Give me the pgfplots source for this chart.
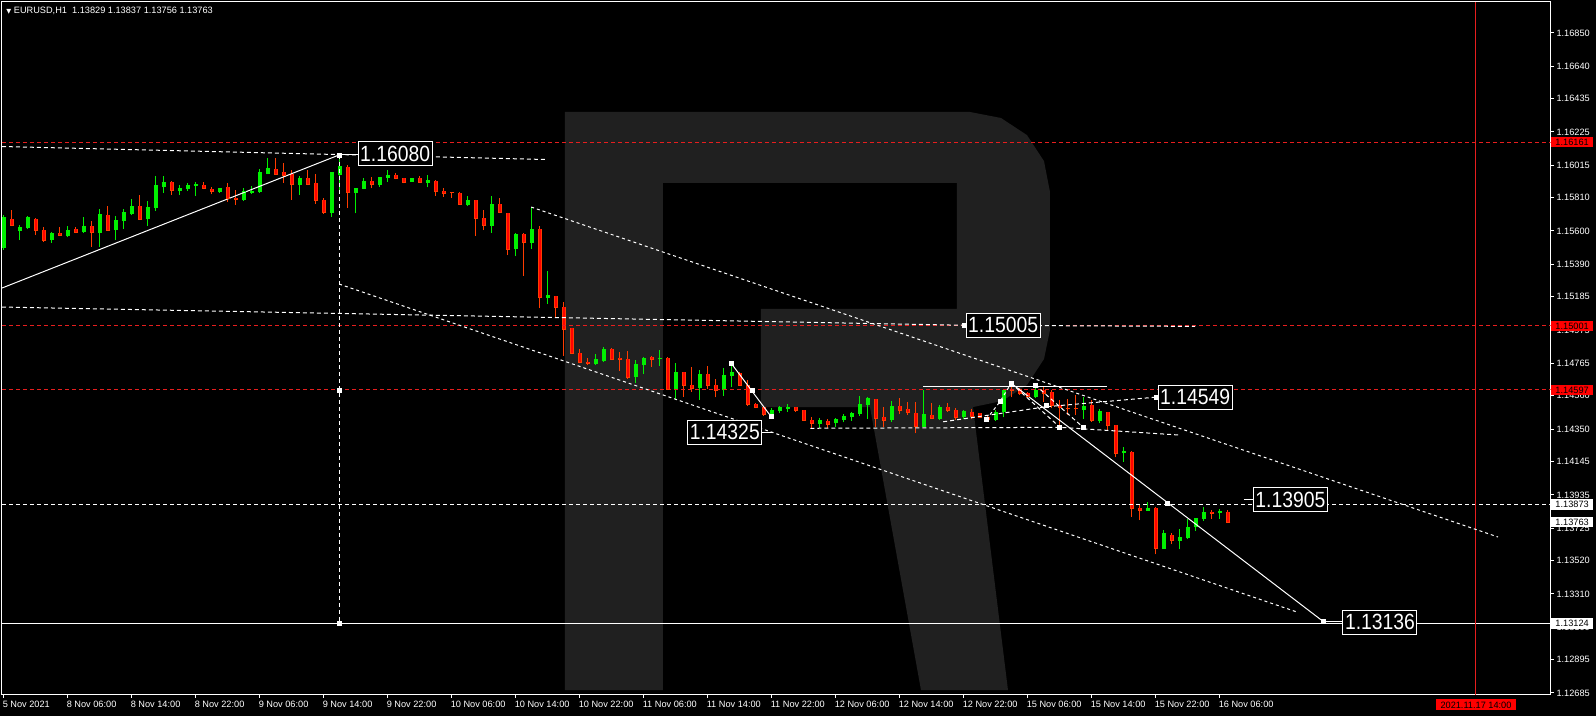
\documentclass[border=0pt]{standalone}
\usepackage{fontspec}
\setmainfont{Liberation Sans}
\newfontfamily\dejavu{DejaVu Sans}
\newfontfamily\lblfont[FakeStretch=0.88]{Liberation Sans}
\usepackage{pgfplots}
\usepackage{pgfplotstable}
\pgfplotsset{compat=1.18}
\usetikzlibrary{backgrounds}

\definecolor{bull}{RGB}{0,240,0}
\definecolor{bear}{RGB}{255,0,0}
\definecolor{bearedge}{RGB}{255,60,0}
\definecolor{wmark}{RGB}{32,32,32}
\definecolor{lvl}{RGB}{230,30,30}

% EURUSD H1, hour index (0 = 5 Nov 22:00), open high low close
\pgfplotstableread{
i o h l c
0 1.15492 1.15701 1.15480 1.15688
2 1.15600 1.15638 1.15543 1.15621
3 1.15619 1.15694 1.15612 1.15682
6 1.15543 1.15593 1.15526 1.15587
8 1.15568 1.15631 1.15562 1.15606
10 1.15593 1.15686 1.15589 1.15631
12 1.15589 1.15738 1.15501 1.15701
14 1.15606 1.15694 1.15543 1.15669
15 1.15663 1.15738 1.15612 1.15715
16 1.15707 1.15802 1.15701 1.15757
18 1.15675 1.15789 1.15631 1.15751
19 1.15745 1.15947 1.15728 1.15890
20 1.15877 1.15947 1.15841 1.15909
22 1.15852 1.15888 1.15827 1.15871
23 1.15865 1.15901 1.15852 1.15888
24 1.15886 1.15909 1.15821 1.15892
27 1.15848 1.15871 1.15841 1.15871
30 1.15795 1.15871 1.15791 1.15846
31 1.15840 1.15884 1.15833 1.15852
32 1.15846 1.15991 1.15840 1.15966
33 1.15959 1.16060 1.15959 1.15997
37 1.15892 1.15949 1.15829 1.15934
41 1.15715 1.15966 1.15690 1.15966
42 1.15953 1.16080 1.15858 1.16005
44 1.15841 1.15869 1.15711 1.15869
45 1.15867 1.15932 1.15863 1.15915
47 1.15892 1.15942 1.15879 1.15940
48 1.15936 1.15983 1.15911 1.15953
51 1.15911 1.15936 1.15911 1.15932
53 1.15905 1.15953 1.15875 1.15917
58 1.15764 1.15821 1.15757 1.15795
61 1.15633 1.15821 1.15589 1.15770
64 1.15484 1.15585 1.15442 1.15579
66 1.15526 1.15749 1.15488 1.15608
68 1.15179 1.15347 1.15142 1.15191
74 1.14762 1.14822 1.14757 1.14786
75 1.14779 1.14866 1.14773 1.14855
79 1.14680 1.14784 1.14639 1.14760
80 1.14754 1.14805 1.14697 1.14798
82 1.14790 1.14849 1.14750 1.14798
84 1.14601 1.14767 1.14538 1.14710
87 1.14611 1.14723 1.14535 1.14697
90 1.14594 1.14735 1.14560 1.14691
91 1.14685 1.14765 1.14613 1.14704
96 1.14441 1.14485 1.14428 1.14470
97 1.14466 1.14495 1.14449 1.14489
98 1.14478 1.14506 1.14460 1.14487
102 1.14382 1.14420 1.14355 1.14407
104 1.14386 1.14422 1.14365 1.14413
105 1.14407 1.14445 1.14393 1.14432
106 1.14428 1.14458 1.14401 1.14451
107 1.14445 1.14559 1.14432 1.14508
108 1.14502 1.14552 1.14412 1.14540
111 1.14407 1.14527 1.14395 1.14495
115 1.14365 1.14595 1.14363 1.14445
117 1.14415 1.14502 1.14407 1.14487
120 1.14424 1.14470 1.14412 1.14464
124 1.14407 1.14470 1.14404 1.14456
125 1.14456 1.14596 1.14424 1.14596
129 1.14550 1.14639 1.14544 1.14596
135 1.14470 1.14554 1.14413 1.14495
137 1.14401 1.14475 1.14386 1.14460
140 1.14197 1.14235 1.14144 1.14207
143 1.13835 1.13892 1.13835 1.13850
145 1.13593 1.13713 1.13593 1.13688
147 1.13646 1.13719 1.13591 1.13663
148 1.13664 1.13781 1.13656 1.13730
149 1.13730 1.13791 1.13709 1.13787
150 1.13782 1.13860 1.13770 1.13825
152 1.13818 1.13844 1.13784 1.13833
}\bulls

\pgfplotstableread{
i o h l c
1 1.15675 1.15732 1.15631 1.15633
4 1.15674 1.15680 1.15574 1.15602
5 1.15606 1.15623 1.15532 1.15543
7 1.15587 1.15623 1.15568 1.15570
9 1.15612 1.15623 1.15587 1.15589
11 1.15631 1.15663 1.15501 1.15589
13 1.15701 1.15757 1.15602 1.15602
17 1.15757 1.15827 1.15674 1.15675
21 1.15909 1.15915 1.15827 1.15854
25 1.15888 1.15909 1.15863 1.15867
26 1.15865 1.15877 1.15831 1.15848
28 1.15877 1.15903 1.15785 1.15802
29 1.15810 1.15858 1.15764 1.15797
34 1.15991 1.16060 1.15959 1.15959
35 1.15972 1.16029 1.15905 1.15953
36 1.15961 1.15985 1.15797 1.15892
38 1.15934 1.15985 1.15892 1.15896
39 1.15903 1.15959 1.15772 1.15791
40 1.15795 1.15810 1.15708 1.15715
43 1.16004 1.16016 1.15748 1.15841
46 1.15915 1.15939 1.15869 1.15892
49 1.15953 1.15964 1.15926 1.15934
50 1.15932 1.15936 1.15901 1.15909
52 1.15932 1.15949 1.15903 1.15905
54 1.15913 1.15922 1.15822 1.15848
55 1.15852 1.15869 1.15816 1.15835
56 1.15846 1.15848 1.15810 1.15840
57 1.15838 1.15846 1.15766 1.15766
59 1.15795 1.15795 1.15568 1.15677
60 1.15680 1.15732 1.15606 1.15633
62 1.15770 1.15808 1.15711 1.15715
63 1.15715 1.15715 1.15448 1.15484
65 1.15579 1.15589 1.15318 1.15526
67 1.15612 1.15631 1.15111 1.15179
69 1.15190 1.15191 1.15055 1.15117
70 1.15118 1.15152 1.14811 1.14979
71 1.14986 1.14990 1.14824 1.14828
72 1.14828 1.14855 1.14764 1.14770
73 1.14775 1.14796 1.14757 1.14764
76 1.14855 1.14861 1.14786 1.14790
77 1.14798 1.14838 1.14718 1.14790
78 1.14792 1.14842 1.14668 1.14678
81 1.14805 1.14811 1.14743 1.14790
83 1.14798 1.14807 1.14596 1.14601
85 1.14710 1.14710 1.14554 1.14622
86 1.14626 1.14742 1.14586 1.14605
88 1.14697 1.14748 1.14603 1.14624
89 1.14626 1.14664 1.14550 1.14596
92 1.14704 1.14710 1.14622 1.14626
93 1.14626 1.14660 1.14495 1.14502
94 1.14506 1.14513 1.14481 1.14487
95 1.14487 1.14495 1.14434 1.14441
99 1.14487 1.14487 1.14460 1.14466
100 1.14470 1.14470 1.14403 1.14407
101 1.14407 1.14424 1.14355 1.14386
103 1.14403 1.14412 1.14355 1.14382
109 1.14540 1.14540 1.14365 1.14415
110 1.14428 1.14487 1.14361 1.14407
112 1.14495 1.14548 1.14443 1.14470
113 1.14478 1.14521 1.14439 1.14456
114 1.14451 1.14521 1.14323 1.14365
116 1.14437 1.14516 1.14412 1.14415
118 1.14487 1.14516 1.14458 1.14466
119 1.14468 1.14485 1.14407 1.14424
121 1.14460 1.14477 1.14415 1.14428
122 1.14449 1.14453 1.14420 1.14424
123 1.14424 1.14432 1.14396 1.14412
126 1.14601 1.14642 1.14550 1.14592
127 1.14601 1.14607 1.14565 1.14576
128 1.14576 1.14586 1.14544 1.14554
130 1.14596 1.14617 1.14523 1.14576
131 1.14584 1.14596 1.14481 1.14500
132 1.14502 1.14533 1.14369 1.14485
133 1.14485 1.14538 1.14439 1.14477
134 1.14485 1.14565 1.14439 1.14477
136 1.14502 1.14533 1.14396 1.14403
138 1.14460 1.14460 1.14340 1.14371
139 1.14376 1.14376 1.14172 1.14197
141 1.14203 1.14212 1.13797 1.13850
142 1.13850 1.13875 1.13776 1.13835
144 1.13850 1.13860 1.13560 1.13598
146 1.13680 1.13696 1.13623 1.13646
151 1.13829 1.13839 1.13784 1.13818
153 1.13829 1.13837 1.13756 1.13763
}\bears

\tikzset{
  trend/.style={white, line width=0.5pt},
  dsh/.style={white, line width=0.5pt, dash pattern=on 2pt off 1.5pt},
  dots/.style={white, line width=0.5pt, dash pattern=on 1.5pt off 1.5pt},
  level/.style={lvl, line width=0.5pt, dash pattern=on 2pt off 1.5pt},
  pricebox/.style={draw=white, fill=black, text=white, line width=0.5pt, inner sep=0pt,
    minimum width=37pt, minimum height=12pt, font=\lblfont\fontsize{11}{11}\selectfont},
  badge/.style={anchor=west, inner sep=0pt, minimum width=21pt, minimum height=5.3pt,
    text=black, font=\fontsize{4.6}{5}\selectfont},
}
\pgfplotsset{
  anchorpt/.style={only marks, mark=square*, mark size=1pt, mark options={fill=white, draw=white}},
  stick/.style={mark=none, -, line cap=butt},
}

\begin{document}
\begin{tikzpicture}
\begin{axis}[
  name=ax, at={(0pt,0pt)}, anchor=south west,
  scale only axis, width=774.35pt, height=346.5pt,
  xmin=-0.25, xmax=193.34, ymin=1.12672, ymax=1.17045,
  axis line style={draw=white, line width=0.5pt},
  tick style={draw=white, line width=0.5pt},
  tick align=outside, major tick length=1.5pt,
  xtick pos=bottom, ytick pos=right, yticklabel pos=right,
  ytick={1.12685,1.12895,1.13100,1.13310,1.13520,1.13725,1.13935,1.14145,1.14350,1.14560,1.14765,1.14975,1.15185,1.15390,1.15600,1.15810,1.16015,1.16225,1.16435,1.16640,1.16850},
  yticklabels={1.12685,1.12895,1.13100,1.13310,1.13520,1.13725,1.13935,1.14145,1.14350,1.14560,1.14765,1.14975,1.15185,1.15390,1.15600,1.15810,1.16015,1.16225,1.16435,1.16640,1.16850},
  xtick={0,8,...,152},
  xticklabels={5 Nov 2021,8 Nov 06:00,8 Nov 14:00,8 Nov 22:00,9 Nov 06:00,9 Nov 14:00,9 Nov 22:00,10 Nov 06:00,10 Nov 14:00,10 Nov 22:00,11 Nov 06:00,11 Nov 14:00,11 Nov 22:00,12 Nov 06:00,12 Nov 14:00,12 Nov 22:00,15 Nov 06:00,15 Nov 14:00,15 Nov 22:00,16 Nov 06:00},
  tick label style={font=\fontsize{4.6}{5}\selectfont, text=white, inner sep=0pt},
  yticklabel style={anchor=west, xshift=1.2pt},
  xticklabel style={anchor=north west, xshift=-0.8pt, yshift=-1.4pt},
  /pgf/number format/assume math mode=true,
  scaled y ticks=false,
  after end axis/.code={
    \node[badge, fill=bear] at (axis cs:193.34,1.16161) {1.16161};
    \node[badge, fill=bear] at (axis cs:193.34,1.15001) {1.15001};
    \node[badge, fill=bear] at (axis cs:193.34,1.14597) {1.14597};
    \node[badge, fill=white] at (axis cs:193.34,1.13873) {1.13873};
    \node[badge, fill=white] at (axis cs:193.34,1.13763) {1.13763};
    \node[badge, fill=white] at (axis cs:193.34,1.13124) {1.13124};
    \node[anchor=north, fill=bear, text=black, inner sep=0pt, minimum width=40pt,
      minimum height=5.5pt, yshift=-2pt, font=\fontsize{4.6}{5}\selectfont]
      at (axis cs:184,1.12672) {2021.11.17 14:00};
  },
]

% watermark
\addplot[fill=wmark, draw=none, mark=none] coordinates {
  (70.125,1.12703) (70.125,1.16351) (120.75,1.16351) (124.625,1.16313)
  (127.875,1.16205) (130,1.16041) (130.75,1.15846) (130.75,1.14975)
  (130,1.14792) (127.875,1.14628) (124.75,1.14527) (121.125,1.14489)
  (125.5,1.12703) (114.625,1.12703) (108.25,1.14489) (94.625,1.14489)
  (94.625,1.15108) (119.125,1.15108) (119.125,1.15903) (82.375,1.15903)
  (82.375,1.12703)} -- cycle;

% bullish candles: wick, then body
\addplot[stick, draw=bull, line width=0.5pt, quiver={u=0, v=\thisrow{h}-\thisrow{l}}]
  table[x=i, y=l] {\bulls};
\addplot[stick, draw=bull, line width=2.4pt, quiver={u=0, v=\thisrow{c}-\thisrow{o}}]
  table[x=i, y=o] {\bulls};
\addplot[only marks, mark=-, mark size=1.2pt, mark options={draw=bull, line width=0.5pt}]
  table[x=i, y=c] {\bulls};

% bearish candles: wick, body edge, body fill
\addplot[stick, draw=bearedge, line width=0.5pt, quiver={u=0, v=\thisrow{h}-\thisrow{l}}]
  table[x=i, y=l] {\bears};
\addplot[stick, draw=bearedge, line width=2.4pt, quiver={u=0, v=\thisrow{o}-\thisrow{c}}]
  table[x=i, y=c] {\bears};
\addplot[stick, draw=bear, line width=1.4pt, quiver={u=0, v=\thisrow{o}-\thisrow{c}}]
  table[x=i, y=c] {\bears};
\addplot[only marks, mark=-, mark size=1.2pt, mark options={draw=bearedge, line width=0.5pt}]
  table[x=i, y=c] {\bears};

% horizontal levels and time line
\addplot[level] coordinates {(-0.25,1.16161) (193.34,1.16161)};
\addplot[level] coordinates {(-0.25,1.15001) (193.34,1.15001)};
\addplot[level] coordinates {(-0.25,1.14597) (193.34,1.14597)};
\addplot[dsh] coordinates {(-0.25,1.13873) (193.34,1.13873)};
\addplot[trend] coordinates {(-0.25,1.13124) (193.34,1.13124)};
\addplot[draw=lvl, line width=0.5pt] coordinates {(184,1.12672) (184,1.17045)};

% trend lines and channels
\addplot[trend] coordinates {(-0.25,1.15240) (41.9,1.16080)};
\addplot[dsh] coordinates {(-0.25,1.16133) (67.75,1.16051)};
\addplot[dsh] coordinates {(41.9,1.16080) (41.9,1.13124)};
\addplot[dsh] coordinates {(-0.25,1.15120) (120,1.15005) (148.9,1.14998)};
\addplot[dots] coordinates {(65.9,1.15751) (186.75,1.13669)};
\addplot[dots] coordinates {(41.9,1.15265) (161.6,1.13196)};
\addplot[trend] coordinates {(90.9,1.14765) (95.9,1.14428)};
\addplot[trend] coordinates {(94.7,1.14330) (96.1,1.14330)};
\addplot[trend] coordinates {(114.9,1.14620) (137.9,1.14620)};
\addplot[trend] coordinates {(125.9,1.14639) (164.9,1.13136)};
\addplot[trend] coordinates {(164.9,1.13136) (167.3,1.13136)};
\addplot[trend] coordinates {(155.0,1.13905) (156.25,1.13905)};
\addplot[trend] coordinates {(41.9,1.16080) (44.3,1.16080)};
\addplot[dsh] coordinates {(117.4,1.14396) (130.3,1.14491) (144.1,1.14552)};
\addplot[dots] coordinates {(122.8,1.14412) (124.5,1.14523) (125.9,1.14639)};
\addplot[dsh] coordinates {(125.9,1.14639) (132,1.14361)};
\addplot[dsh] coordinates {(128.9,1.14628) (134.9,1.14361)};
\addplot[dsh] coordinates {(100.8,1.14355) (132,1.14361) (147,1.14312)};

% anchor points
\addplot[anchorpt] coordinates {
  (41.9,1.16080) (41.9,1.14596) (41.9,1.13124)
  (90.9,1.14765) (93.5,1.14596) (95.9,1.14428)
  (120,1.15005) (144.1,1.14552) (122.8,1.14412) (124.5,1.14523)
  (125.9,1.14639) (128.9,1.14628) (130.3,1.14502) (131.9,1.14361)
  (134.9,1.14361) (145.4,1.13882) (164.9,1.13136)};

% price labels
\node[pricebox] at (axis cs:48.9,1.16086) {1.16080};
\node[pricebox] at (axis cs:124.9,1.15005) {1.15005};
\node[pricebox] at (axis cs:90.1,1.14331) {1.14325};
\node[pricebox] at (axis cs:148.9,1.14552) {1.14549};
\node[pricebox] at (axis cs:160.8,1.13905) {1.13905};
\node[pricebox] at (axis cs:172,1.13132) {1.13136};

% header
\node[anchor=west, text=white, inner sep=0pt, font=\fontsize{4.6}{5}\selectfont]
  at (axis cs:0.25,1.16990) {{\dejavu\fontsize{3.2}{4}\selectfont ▼}\ EURUSD,H1\ \ 1.13829 1.13837 1.13756 1.13763};
\end{axis}
\begin{scope}[on background layer]
\fill[black] ([shift={(-1pt,-10.5pt)}]ax.south west) rectangle ([shift={(22.65pt,1pt)}]ax.north east);
\end{scope}
\pgfresetboundingbox
\path[use as bounding box] ([shift={(-1pt,-10.5pt)}]ax.south west) rectangle ([shift={(22.65pt,1pt)}]ax.north east);
\end{tikzpicture}
\end{document}
